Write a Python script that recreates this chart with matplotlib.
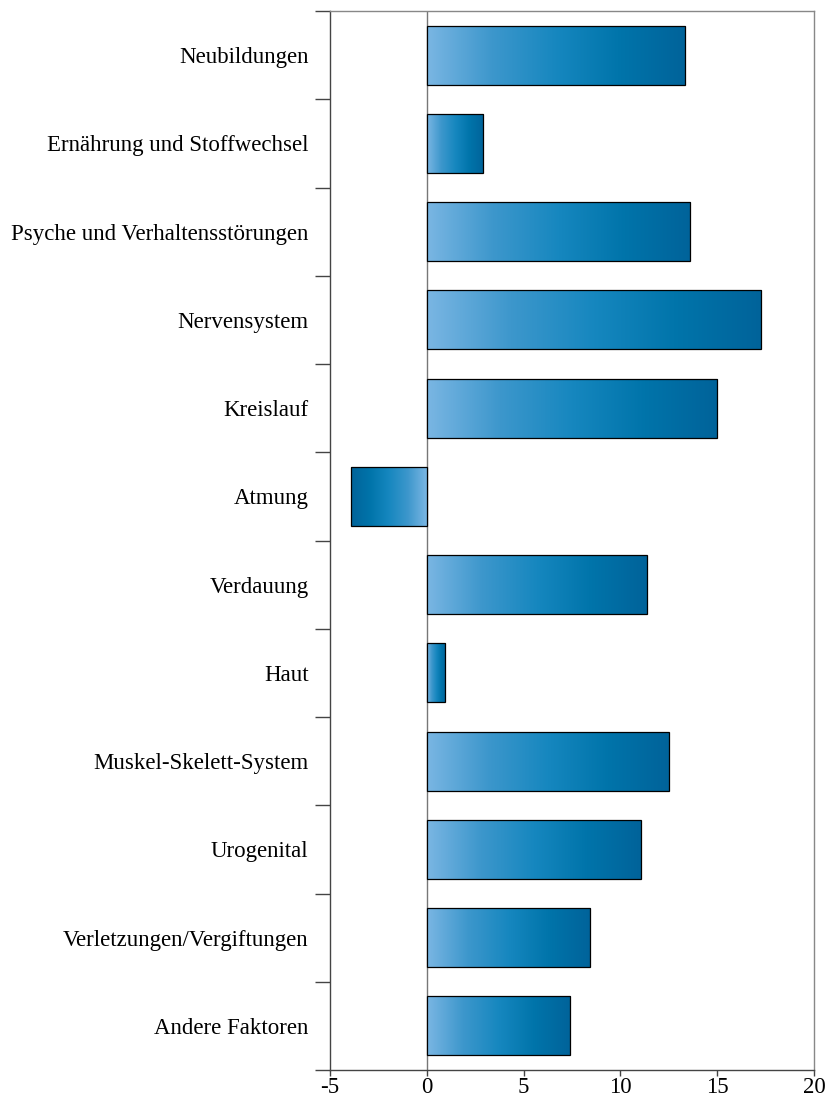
import numpy as np
import matplotlib
matplotlib.use('Agg')
import matplotlib.pyplot as plt
from matplotlib.colors import LinearSegmentedColormap

plt.rcParams['font.family'] = ['Liberation Serif', 'DejaVu Serif']
plt.rcParams['axes.unicode_minus'] = False

# Data
categories = [
    "Neubildungen",
    "Ernährung und Stoffwechsel",
    "Psyche und Verhaltensstörungen",
    "Nervensystem",
    "Kreislauf",
    "Atmung",
    "Verdauung",
    "Haut",
    "Muskel-Skelett-System",
    "Urogenital",
    "Verletzungen/Vergiftungen",
    "Andere Faktoren",
]
values = [13.35, 2.92, 13.62, 17.26, 15.0, -3.89, 11.36, 0.94, 12.49, 11.05, 8.45, 7.42]
xticks = [-5, 0, 5, 10, 15, 20]

# light -> mid -> dark blue, running from zero out to the bar end
cmap = LinearSegmentedColormap.from_list(
    "bluegrad", ["#7ab6e3", "#3d97cc", "#1687bf", "#0074aa", "#00639a"])
gradient = np.linspace(0, 1, 256).reshape(1, -1)

fig = plt.figure(figsize=(8.26, 11.06), dpi=100)
ax = fig.add_axes([0.3995, 0.0325, 0.586, 0.9575])

ypos = np.arange(len(categories))
bar_h = 0.67
bars = ax.barh(ypos, values, height=bar_h, facecolor='none',
               edgecolor='black', linewidth=0.9, zorder=3)

for bar, v, y in zip(bars, values, ypos):
    im = ax.imshow(gradient, cmap=cmap, aspect='auto', interpolation='bicubic',
                   extent=[0, v, y + bar_h / 2, y - bar_h / 2], zorder=2)
    im.set_clip_path(bar)

ax.axvline(0, color='#777777', linewidth=1.0, zorder=1)

ax.set_xlim(-5, 20)
ax.set_ylim(len(categories) - 0.5, -0.5)

# category labels on minor ticks, tick marks at the boundaries
ax.set_yticks(np.arange(len(categories) + 1) - 0.5)
ax.set_yticklabels([])
ax.set_yticks(ypos, minor=True)
ax.set_yticklabels(categories, minor=True, fontsize=16.5)
ax.tick_params(axis='y', which='major', length=11, width=1, color='#444444')
ax.tick_params(axis='y', which='minor', length=0, pad=15.5)

ax.set_xticks(xticks)
ax.set_xticklabels([str(t) for t in xticks], fontsize=16.5)
ax.tick_params(axis='x', length=4, width=1, color='#444444', pad=1)

for side in ['left', 'bottom']:
    ax.spines[side].set_color('#444444')
    ax.spines[side].set_linewidth(1.0)
for side in ['top', 'right']:
    ax.spines[side].set_color('#888888')
    ax.spines[side].set_linewidth(1.0)

fig.savefig("out.png", dpi=100)
plt.close(fig)
